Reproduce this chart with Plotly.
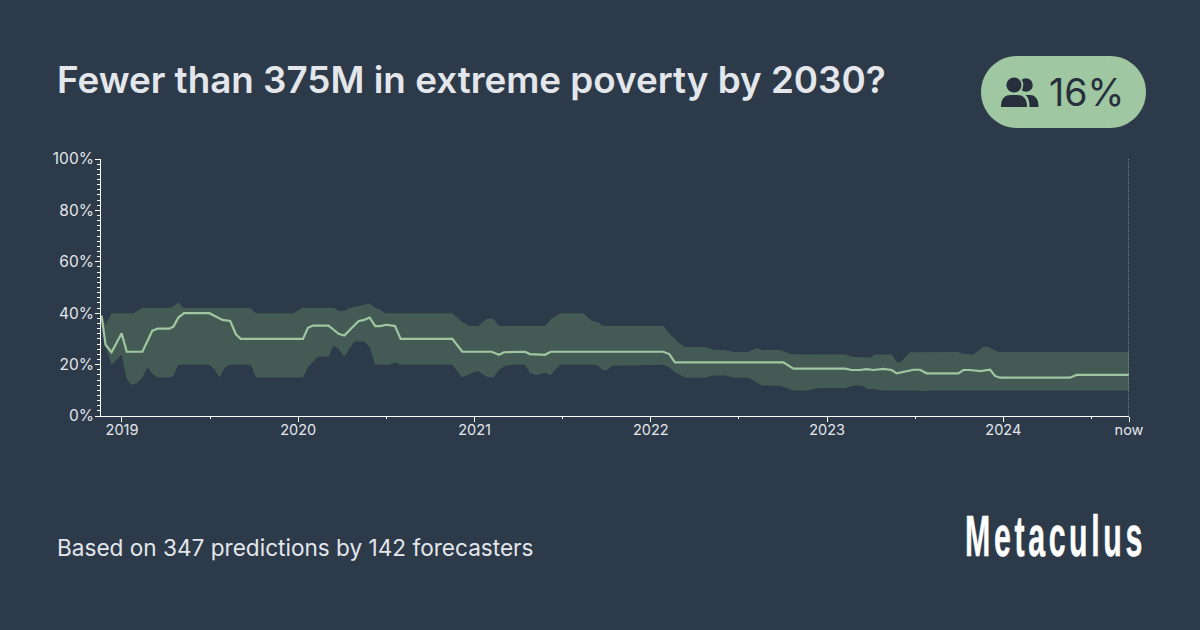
import plotly.graph_objects as go

BG = "#2d3a4a"
GREEN = "#9fc7a2"
BAND = "#445a54"
TEXT = "#e3e7eb"
DARK = "#262f3b"

# Time is in decimal years, probabilities in percent
median_x = [2018.884, 2018.907, 2018.941, 2018.998, 2019.027, 2019.116, 2019.172, 2019.203, 2019.269, 2019.292,
            2019.320, 2019.352, 2019.496, 2019.528, 2019.570, 2019.614, 2019.646, 2019.674, 2020.027, 2020.055,
            2020.083, 2020.172, 2020.229, 2020.261, 2020.295, 2020.343, 2020.375, 2020.405, 2020.437, 2020.464,
            2020.502, 2020.549, 2020.581, 2020.874, 2020.931, 2021.097, 2021.139, 2021.167, 2021.286, 2021.315,
            2021.400, 2021.432, 2022.071, 2022.105, 2022.137, 2022.752, 2022.809, 2023.102, 2023.140, 2023.187,
            2023.225, 2023.263, 2023.319, 2023.367, 2023.395, 2023.414, 2023.452, 2023.490, 2023.527, 2023.565,
            2023.745, 2023.773, 2023.811, 2023.868, 2023.925, 2023.953, 2023.981, 2024.378, 2024.416, 2024.713]
median_y = [39, 27.7, 24.8, 32.2, 25, 25, 33.2, 34, 34, 34.8,
            38.3, 40, 40, 39, 37.4, 37, 31.8, 30, 30, 34.3,
            35.2, 35.2, 32, 31.3, 33.8, 37, 37.4, 38.3, 35, 35,
            35.5, 35, 30, 30, 25, 25, 23.8, 24.8, 25, 24.1,
            23.8, 25, 25, 24.1, 20.9, 20.9, 18.4, 18.4, 17.9, 17.9,
            18.2, 17.9, 18.3, 17.9, 16.6, 16.9, 17.4, 18, 18, 16.6,
            16.6, 17.9, 17.9, 17.5, 18, 15.6, 14.9, 14.9, 16, 16]

upper_x = [2018.884, 2018.907, 2018.941, 2019.064, 2019.116, 2019.263, 2019.292, 2019.320, 2019.348, 2019.727,
           2019.759, 2019.973, 2020.021, 2020.201, 2020.229, 2020.261, 2020.292, 2020.343, 2020.405, 2020.437,
           2020.464, 2020.492, 2020.874, 2020.927, 2020.974, 2021.021, 2021.069, 2021.107, 2021.139, 2021.400,
           2021.438, 2021.485, 2021.617, 2021.665, 2021.702, 2021.727, 2022.071, 2022.105, 2022.137, 2022.156,
           2022.194, 2022.308, 2022.355, 2022.421, 2022.468, 2022.553, 2022.601, 2022.629, 2022.733, 2022.799,
           2023.102, 2023.149, 2023.206, 2023.244, 2023.272, 2023.367, 2023.395, 2023.418, 2023.433, 2023.471,
           2023.745, 2023.773, 2023.830, 2023.887, 2023.915, 2023.953, 2023.981, 2024.713]
upper_y = [40, 35.5, 40, 40, 42, 42, 42.6, 44.3, 42, 42,
           40, 40, 42, 42, 41, 41, 42, 42.9, 43.8, 42,
           41.3, 40, 40, 36.8, 35, 35, 37.8, 37.8, 35, 35,
           38, 40, 40, 37.1, 36.5, 35, 35, 32.2, 29.9, 28.6,
           26.8, 26.8, 25.8, 25.7, 24.9, 24.9, 26.5, 25.7, 25.7, 24,
           23.9, 23, 22.9, 22.7, 23.9, 23.9, 21, 20.9, 22.1, 24.8,
           24.9, 24.2, 23.8, 26.9, 26.9, 25.5, 24.9, 24.9]

lower_x = [2018.884, 2018.907, 2018.941, 2018.970, 2018.998, 2019.027, 2019.055, 2019.083, 2019.116, 2019.144,
           2019.172, 2019.203, 2019.269, 2019.292, 2019.320, 2019.496, 2019.528, 2019.553, 2019.585, 2019.614,
           2019.731, 2019.759, 2020.027, 2020.055, 2020.110, 2020.172, 2020.201, 2020.229, 2020.261, 2020.318,
           2020.375, 2020.405, 2020.437, 2020.520, 2020.549, 2020.581, 2020.874, 2020.931, 2020.974, 2021.021,
           2021.069, 2021.107, 2021.139, 2021.173, 2021.211, 2021.286, 2021.315, 2021.352, 2021.400, 2021.432,
           2021.485, 2021.693, 2021.727, 2021.749, 2021.781, 2022.071, 2022.105, 2022.137, 2022.156, 2022.194,
           2022.308, 2022.355, 2022.421, 2022.468, 2022.553, 2022.601, 2022.629, 2022.733, 2022.809, 2022.894,
           2022.941, 2023.102, 2023.159, 2023.196, 2023.234, 2023.263, 2023.310, 2023.508, 2023.546, 2023.594, 2024.713]
lower_y = [39, 27, 19.9, 21.8, 23.8, 14.3, 12.1, 12.7, 15, 19,
           16.4, 15, 15, 15.7, 19.9, 19.9, 17.9, 15, 19, 19.9,
           19.9, 15, 15, 19, 23.1, 23.1, 27.4, 26.1, 23.1, 29,
           29, 26.8, 19.9, 19.9, 20.9, 19.9, 19.9, 15, 16.4, 17.5,
           15.3, 15, 17.9, 19.6, 19.9, 19.9, 16.6, 16, 16.8, 16,
           19.9, 19.9, 17.9, 17.8, 19.6, 19.9, 19, 16.9, 16.4, 14.9,
           14.9, 15.8, 15.8, 15, 14.9, 13, 11.9, 11.8, 9.9, 9.9,
           10.8, 10.9, 11.9, 11.9, 10.4, 10.5, 9.9, 9.9, 9.6, 9.9, 9.9]

year_ticks = [2019, 2020, 2021, 2022, 2023, 2024, 2024.713]
year_labels = ["2019", "2020", "2021", "2022", "2023", "2024", "now"]
half_year_ticks = [2019.5, 2020.5, 2021.5, 2022.5, 2023.5, 2024.5]
pct_ticks = [0, 20, 40, 60, 80, 100]
pct_labels = ["0%", "20%", "40%", "60%", "80%", "100%"]

TITLE = "Fewer than 375M in extreme poverty by 2030?"
FOOTER = "Based on 347 predictions by 142 forecasters"
BADGE = "16%"
LOGO = "Metaculus"

# plot area in page pixels
L, R, T, B = 101, 1129, 159, 416


def px(x):
    return (x - L) / (R - L)


def py(y):
    return (B - y) / (B - T)


def p(x, y):
    return f"{px(x)},{py(y)}"


def pill(x0, y0, x1, y1, r):
    k = r * 0.448
    return (
        f"M{p(x0 + r, y0)} L{p(x1 - r, y0)} C{p(x1 - k, y0)} {p(x1, y0 + k)} {p(x1, y0 + r)} "
        f"L{p(x1, y1 - r)} C{p(x1, y1 - k)} {p(x1 - k, y1)} {p(x1 - r, y1)} "
        f"L{p(x0 + r, y1)} C{p(x0 + k, y1)} {p(x0, y1 - k)} {p(x0, y1 - r)} "
        f"L{p(x0, y0 + r)} C{p(x0, y0 + k)} {p(x0 + k, y0)} {p(x0 + r, y0)}Z"
    )


def shoulders(x0, x1, top, bottom):
    w = (x1 - x0) * 0.38
    return (
        f"M{p(x0, bottom)} C{p(x0, top + 3)} {p(x0 + 4, top)} {p(x0 + w, top)} "
        f"L{p(x1 - w, top)} C{p(x1 - 4, top)} {p(x1, top + 3)} {p(x1, bottom)}Z"
    )


def dot(cx, cy, r, color):
    return dict(type="circle", xref="paper", yref="paper", layer="above", line_width=0, fillcolor=color,
                x0=px(cx - r), x1=px(cx + r), y0=py(cy + r), y1=py(cy - r))


def blob(path, color):
    return dict(type="path", xref="paper", yref="paper", layer="above", line_width=0, fillcolor=color, path=path)


fig = go.Figure()
fig.add_trace(go.Scatter(x=upper_x, y=upper_y, mode="lines", line=dict(width=0), showlegend=False))
fig.add_trace(go.Scatter(x=lower_x, y=lower_y, mode="lines", line=dict(width=0), fill="tonexty",
                         fillcolor=BAND, showlegend=False))
fig.add_trace(go.Scatter(x=median_x, y=median_y, mode="lines", line=dict(color=GREEN, width=2.2), showlegend=False))

shapes = [
    dict(type="line", xref="x", yref="paper", x0=year_ticks[-1], x1=year_ticks[-1], y0=0, y1=1, layer="above",
         line=dict(color="#8d97a1", width=1.5, dash="1px,1px")),
    blob(pill(981, 56, 1146, 128, 36), GREEN),
    # people icon
    dot(1026, 85, 6.8, DARK),
    blob(shoulders(1016, 1038.5, 95, 107), DARK),
    dot(1014, 85, 9.3, GREEN),
    blob(shoulders(998.5, 1029.5, 93, 107), GREEN),
    dot(1014, 85, 7.6, DARK),
    blob(shoulders(1001, 1027, 95, 107), DARK),
]

annotations = [
    dict(text=TITLE, x=px(55.5), y=py(79), font=dict(family="Inter", size=36.8, color=TEXT, weight=600), xanchor="left"),
    dict(text=FOOTER, x=px(56), y=py(547), font=dict(family="Inter", size=22.6, color=TEXT), xanchor="left"),
    dict(text=BADGE, x=px(1048), y=py(92), font=dict(family="Inter", size=37.5, color=DARK), xanchor="left"),
    dict(text=LOGO, x=px(1054), y=py(535.5), font=dict(family="Liberation Sans", size=58, color="#ffffff", weight=700),
         xanchor="center"),
]
for a in annotations:
    a.update(xref="paper", yref="paper", yanchor="middle", showarrow=False, borderpad=0)

fig.update_layout(
    width=1200,
    height=630,
    autosize=False,
    margin=dict(l=L, r=1200 - R, t=T, b=630 - B, pad=0),
    paper_bgcolor=BG,
    plot_bgcolor=BG,
    font=dict(family="Inter", size=14.5, color=TEXT),
    showlegend=False,
    shapes=shapes,
    annotations=annotations,
    xaxis=dict(range=[2018.881, 2024.713], tickvals=year_ticks, ticktext=year_labels, ticks="outside", ticklen=5,
               tickcolor="#ffffff", tickwidth=1, showgrid=False, zeroline=False, showline=True,
               linecolor="#ffffff", linewidth=1, ticklabelstandoff=-4, tickfont=dict(color=TEXT),
               minor=dict(tickvals=half_year_ticks, ticks="outside", ticklen=2, tickcolor="#ffffff", showgrid=False)),
    yaxis=dict(range=[0, 100], tickvals=pct_ticks, ticktext=pct_labels, ticks="outside", ticklen=5,
               tickcolor="#ffffff", tickwidth=1, showgrid=False, zeroline=False, showline=True,
               linecolor="#ffffff", linewidth=1, ticklabelstandoff=-2, tickfont=dict(size=15.5, color=TEXT),
               minor=dict(dtick=2, ticks="outside", ticklen=3, tickcolor="#ffffff", showgrid=False)),
)

# page margin off, and the wordmark squeezed to its condensed, spaced-out look
post = """
document.body.style.margin = '0';
document.body.style.background = '%s';
document.querySelectorAll('.annotation-text').forEach(function (el) {
  if (el.textContent === '%s') {
    el.style.letterSpacing = '0.12em';
    el.style.stroke = '#ffffff';
    el.style.strokeWidth = '0.5px';
    var b = el.getBBox();
    var sx = 181 / b.width;
    var cx = b.x + b.width / 2;
    var squeeze = 'translate(' + cx + ' 0) scale(' + sx + ' 1) translate(' + (-cx) + ' 0)';
    el.setAttribute('transform', squeeze);
    var r = el.getBoundingClientRect();
    el.setAttribute('transform', 'translate(' + (1055.5 - (r.left + r.width / 2)) + ' 0) ' + squeeze);
  }
});
""" % (BG, LOGO)

fig.write_html("out.html", config=dict(displayModeBar=False), post_script=post)
